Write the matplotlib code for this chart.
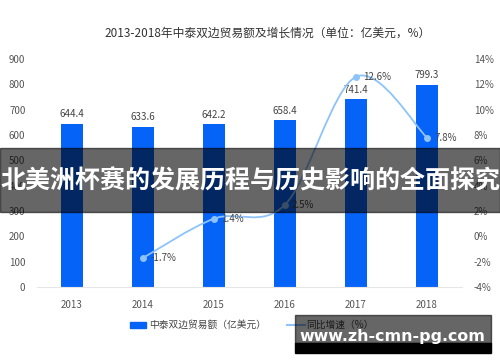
import matplotlib
matplotlib.use("Agg")
import matplotlib.pyplot as plt
from matplotlib.path import Path
from matplotlib.patches import PathPatch, Rectangle
import numpy as np

plt.rcParams['font.family'] = ['Noto Sans CJK SC', 'DejaVu Sans']

# data
years = ["2013", "2014", "2015", "2016", "2017", "2018"]
trade = [644.4, 633.6, 642.2, 658.4, 741.4, 799.3]
growth_years = ["2014", "2015", "2016", "2017", "2018"]
growth = [-1.7, 1.4, 2.5, 12.6, 7.8]
left_ticks = [0, 100, 200, 300, 400, 500, 600, 700, 800, 900]
right_ticks = [-4, -2, 0, 2, 4, 6, 8, 10, 12, 14]

title = "2013-2018年中泰双边贸易额及增长情况（单位：亿美元，%）"
bar_label = "中泰双边贸易额（亿美元）"
line_label = "同比增速（%）"
banner = "北美洲杯赛的发展历程与历史影响的全面探究"
watermark = "www.zh-cmn-pg.com"

bar_color = "#0563F7"
line_color = "#8DC3FA"
text_gray = "#555555"

fig = plt.figure(figsize=(5.0, 3.62), dpi=100)
ax = fig.add_axes([0.073, 0.207, 0.852, 0.63])
ax2 = ax.twinx()

x = np.arange(len(years))
ax.bar(x, trade, width=0.31, color=bar_color, zorder=2)
for xi, v in zip(x, trade):
    ax.text(xi, v + 18, f"{v:.1f}", ha="center", va="bottom", fontsize=7, color="#444444")

ax.set_xlim(-0.5, 5.5)
ax.set_ylim(0, 900)
ax.set_yticks(left_ticks)
ax.set_xticks(x)
ax.set_xticklabels(years)
ax.tick_params(axis="both", length=0, labelsize=7, colors=text_gray)
ax.tick_params(axis="y", pad=8)
ax.tick_params(axis="x", pad=9)
for s in ["top", "right", "left"]:
    ax.spines[s].set_visible(False)
ax.spines["bottom"].set_color("#E6E6E6")

ax2.set_ylim(-4, 14)
ax2.set_yticks(right_ticks)
ax2.set_yticklabels([f"{t}%" for t in right_ticks])
ax2.tick_params(axis="y", length=0, labelsize=7, colors=text_gray, pad=8)
for s in ax2.spines.values():
    s.set_visible(False)

# smooth line drawn as bezier path through the points
gx = np.array([years.index(y) for y in growth_years], dtype=float)
gy = np.array(growth, dtype=float)
pts = np.column_stack([gx, gy])
verts = [pts[0]]
codes = [Path.MOVETO]
n = len(pts)
for i in range(n - 1):
    p0 = pts[max(i - 1, 0)]
    p1 = pts[i]
    p2 = pts[i + 1]
    p3 = pts[min(i + 2, n - 1)]
    c1 = p1 + (p2 - p0) / 6.0
    c2 = p2 - (p3 - p1) / 6.0
    verts += [c1, c2, p2]
    codes += [Path.CURVE4] * 3
ax2.add_patch(PathPatch(Path(verts, codes), facecolor="none", edgecolor=line_color,
                        lw=1.3, zorder=3))
ax2.plot(gx, gy, "o", color=line_color, ms=4, zorder=4)
for xi, v in zip(gx, gy):
    ax2.text(xi + 0.1, v, f"{v}%", ha="left", va="center", fontsize=7, color="#444444")

fig.text(0.535, 0.908, title, ha="center", va="center", fontsize=8.5, color="#333333")

# legend
fig.patches.append(Rectangle((130 / 500, 1 - 328 / 362), 16 / 500, 6 / 362,
                             transform=fig.transFigure, color=bar_color))
fig.text(149 / 500, 1 - 325 / 362, bar_label, ha="left", va="center", fontsize=7, color="#444444")
fig.lines.append(plt.Line2D([287 / 500, 305 / 500], [1 - 325 / 362] * 2,
                            transform=fig.transFigure, color=line_color, lw=1.5))
fig.text(306 / 500, 1 - 325 / 362, line_label, ha="left", va="center", fontsize=7, color="#444444")

# overlay banner
fig.patches.append(Rectangle((0, 1 - 212 / 362), 1, 64 / 362, transform=fig.transFigure,
                             color="black", alpha=0.6, zorder=10))
fig.text(0.5, 1 - 181 / 362, banner, ha="center", va="center", fontsize=18,
         fontweight="bold", color="white", zorder=11)

# watermark box
fig.patches.append(Rectangle((295 / 500, 1 - 343 / 362), 196 / 500, 28 / 362,
                             transform=fig.transFigure, color="black", alpha=0.6, zorder=10))
fig.patches.append(Rectangle((295 / 500, 1 - 353 / 362), 196 / 500, 10 / 362,
                             transform=fig.transFigure, color="black", zorder=10))
fig.text(392 / 500, 1 - 337 / 362, watermark, ha="center", va="center", fontsize=11.4,
         fontweight="bold", color="white", family="DejaVu Sans", zorder=11)

fig.savefig("out.png", dpi=100)
